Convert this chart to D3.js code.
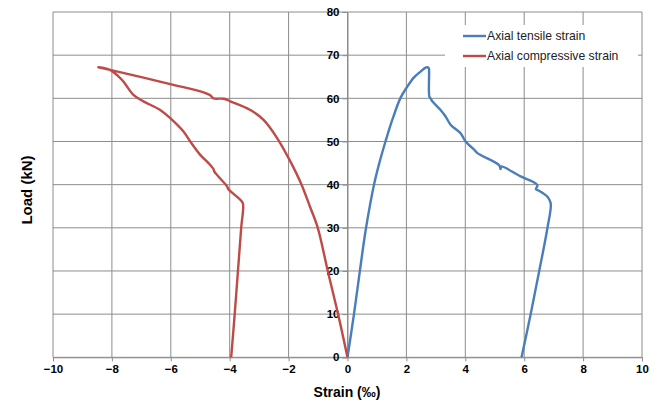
<!DOCTYPE html>
<html><head><meta charset="utf-8">
<script src="https://cdn.jsdelivr.net/npm/d3@7"></script>
<style>body{margin:0;background:#fff}svg{display:block}text{font-family:"Liberation Sans",Arial,sans-serif}</style>
</head><body><svg id="c" width="665" height="402"></svg>
<script>
const xTicks = [-10,-8,-6,-4,-2,0,2,4,6,8,10];
const yTicks = [0,10,20,30,40,50,60,70,80];
const seriesNames = ["Axial tensile strain","Axial compressive strain"];
const seriesColors = ["#4A7EBB","#BE4B48"];
// strain (‰), load (kN)
const tensileStrain = [0,0.22,0.42,0.63,0.90,1.08,1.29,1.52,1.80,2.03,2.25,2.48,2.65,2.71,2.76,2.77,2.78,2.82,2.88,3.16,3.33,3.50,3.84,4.01,4.30,4.41,5.15,5.20,5.22,5.88,6.39,6.45,6.40,6.50,6.79,6.90,6.79,6.51,6.22,5.91];
const tensileLoad   = [0,10,20,30,40,45,50,55,60.1,62.7,64.8,66.2,67.1,67.2,67.0,66.0,60.4,60.0,59.3,57.3,55.8,53.9,51.9,50.0,48.1,47.3,44.5,43.6,44.2,41.9,40.3,39.8,38.9,38.6,37.2,35.7,30,20,10,0];
const compStrain = [0,-0.32,-0.67,-1.01,-1.28,-1.56,-1.95,-2.39,-2.85,-3.30,-3.98,-4.20,-4.55,-4.66,-4.89,-6.02,-8.06,-8.46,-8.07,-7.78,-7.61,-7.27,-6.93,-6.36,-6.02,-5.57,-5.34,-5.00,-4.72,-4.55,-4.52,-4.09,-4.05,-3.64,-3.55,-3.61,-3.72,-3.83,-3.95];
const compLoad   = [0,10,20,30,35,40,45.5,50.8,55.0,57.3,59.3,59.9,60.0,60.7,61.4,63.3,66.6,67.2,66.6,65.1,63.9,60.8,59.3,57.3,55.4,52.3,50.0,46.9,45.0,43.6,43.0,39.6,39.0,36.5,35.6,30,20,10,0];

const svg = d3.select("#c");
const x = d3.scaleLinear().domain([-10,10]).range([53,642]);
const y = d3.scaleLinear().domain([0,80]).range([357.3,12]);
const grid = "#8c8c8c";

const g = svg.append("g");
g.selectAll("line.vx").data(xTicks).join("line")
  .attr("x1",d=>x(d)).attr("x2",d=>x(d)).attr("y1",y(0)).attr("y2",y(80))
  .attr("stroke",grid).attr("stroke-width",1);
g.selectAll("line.hy").data(yTicks).join("line")
  .attr("x1",x(-10)).attr("x2",x(10)).attr("y1",d=>y(d)).attr("y2",d=>y(d))
  .attr("stroke",grid).attr("stroke-width",1);

const xa = svg.append("g").attr("transform",`translate(0,${y(0)})`)
  .call(d3.axisBottom(x).tickValues(xTicks).tickSize(4).tickPadding(4).tickFormat(d3.format("d")));
const ya = svg.append("g").attr("transform",`translate(${x(0)},0)`)
  .call(d3.axisLeft(y).tickValues(yTicks).tickSize(5).tickPadding(3).tickFormat(d3.format("d")));
[xa,ya].forEach(a=>{
  a.select(".domain").attr("stroke",grid);
  a.selectAll(".tick line").attr("stroke",grid);
  a.selectAll("text").attr("font-size",11.5).attr("font-weight","bold").attr("fill","#000")
   .style("font-family","'Liberation Sans',Arial,sans-serif");
});

svg.append("rect").attr("x",445).attr("y",25).attr("width",193).attr("height",42).attr("fill","#fff");

const line = d3.line().x(d=>x(d[0])).y(d=>y(d[1])).curve(d3.curveCatmullRom.alpha(0.5));
const tData = tensileStrain.map((v,i)=>[v,tensileLoad[i]]);
const cData = compStrain.map((v,i)=>[v,compLoad[i]]);
[tData,cData].forEach((dd,i)=>{
  svg.append("path").datum(dd).attr("d",line).attr("fill","none")
    .attr("stroke",seriesColors[i]).attr("stroke-width",2.4).attr("stroke-linejoin","round");
});

const lg = svg.append("g");
seriesNames.forEach((n,i)=>{
  const yy = 36 + i*20;
  lg.append("line").attr("x1",463).attr("x2",486).attr("y1",yy).attr("y2",yy)
    .attr("stroke",seriesColors[i]).attr("stroke-width",2.4);
  lg.append("text").attr("x",487).attr("y",yy+4).attr("font-size",12.2).attr("fill","#222").text(n);
});

svg.append("text").attr("transform","translate(32,190) rotate(-90)").attr("text-anchor","middle")
  .attr("font-size",15).attr("font-weight","bold").text("Load (kN)");
svg.append("text").attr("x",347).attr("y",397).attr("text-anchor","middle")
  .attr("font-size",14).attr("font-weight","bold").text("Strain (‰)");
</script></body></html>
